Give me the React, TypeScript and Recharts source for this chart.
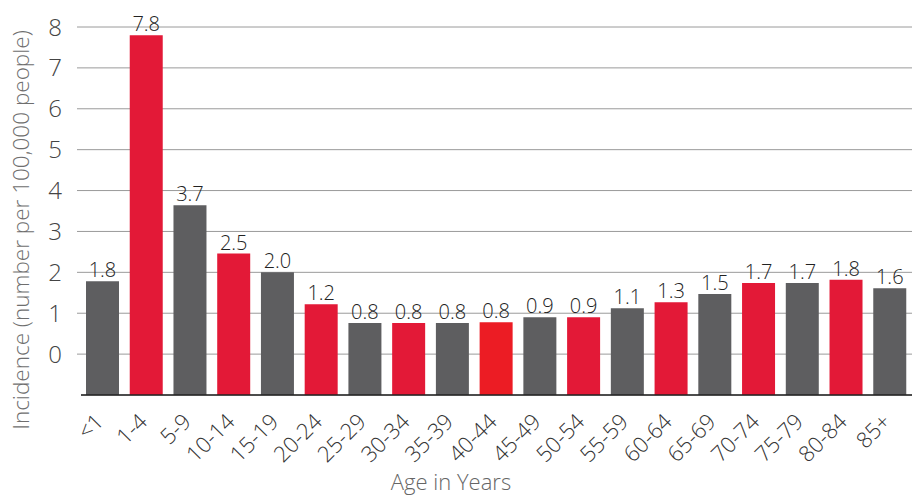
import React from "react";
import { BarChart, Bar, XAxis, YAxis, CartesianGrid, Cell, LabelList, Label } from "recharts";

const ageGroups = ["<1", "1-4", "5-9", "10-14", "15-19", "20-24", "25-29", "30-34", "35-39", "40-44", "45-49", "50-54", "55-59", "60-64", "65-69", "70-74", "75-79", "80-84", "85+"];
const incidence = [1.78, 7.8, 3.64, 2.46, 2.0, 1.22, 0.76, 0.76, 0.76, 0.78, 0.9, 0.9, 1.12, 1.27, 1.47, 1.74, 1.74, 1.82, 1.61];
const valueLabels = ["1.8", "7.8", "3.7", "2.5", "2.0", "1.2", "0.8", "0.8", "0.8", "0.8", "0.9", "0.9", "1.1", "1.3", "1.5", "1.7", "1.7", "1.8", "1.6"];
const barColors = ["#5e5e60", "#e31937", "#5e5e60", "#e31937", "#5e5e60", "#e31937", "#5e5e60", "#e31937", "#5e5e60", "#ec1c24", "#5e5e60", "#e31937", "#5e5e60", "#e31937", "#5e5e60", "#e31937", "#5e5e60", "#e31937", "#5e5e60"];
const yTicks = [0, 1, 2, 3, 4, 5, 6, 7, 8];
const axisFloor = -1;

const data = ageGroups.map((age, i) => ({
  age,
  value: incidence[i],
  label: valueLabels[i],
  range: [axisFloor, incidence[i]],
}));

const FONT = "'Open Sans', Lato, sans-serif";

const XTick = (props: any) => {
  const { x, y, payload } = props;
  const ax = x + 2;
  const ay = y + 20;
  return (
    <text
      x={ax}
      y={ay}
      transform={`rotate(-45, ${ax}, ${ay})`}
      textAnchor="end"
      fontSize={22}
      fontWeight={300}
      fontFamily={FONT}
      fill="#333"
    >
      {payload.value}
    </text>
  );
};

export default function App() {
  return (
    <div style={{ position: "absolute", left: 0, top: 0, width: 912, height: 495, background: "#fff" }}>
      <BarChart width={912} height={495} data={data} margin={{ top: 27, right: 0, bottom: 0, left: 0 }} barSize={33}>
        <CartesianGrid vertical={false} stroke="#9a9a9a" strokeWidth={1} />
        <XAxis
          dataKey="age"
          height={100}
          axisLine={{ stroke: "#222", strokeWidth: 1.5 }}
          tickLine={false}
          tick={<XTick />}
          interval={0}
        >
          <Label
            content={() => (
              <text x={451} y={490} textAnchor="middle" fontSize={22} fontWeight={300} fontFamily={FONT} fill="#666">
                Age in Years
              </text>
            )}
          />
        </XAxis>
        <YAxis
          width={81}
          domain={[axisFloor, 8]}
          ticks={yTicks}
          interval={0}
          axisLine={false}
          tickLine={{ stroke: "#9a9a9a" }}
          tickSize={4}
          tickMargin={15}
          tick={{ fontSize: 24, fontWeight: 300, fontFamily: FONT, fill: "#444" }}
        >
          <Label
            content={() => (
              <text
                x={29}
                y={230}
                transform="rotate(-90, 29, 230)"
                textAnchor="middle"
                fontSize={22.5}
                fontWeight={300}
                fontFamily={FONT}
                fill="#6e6e6e"
              >
                Incidence (number per 100,000 people)
              </text>
            )}
          />
        </YAxis>
        <Bar dataKey="range" isAnimationActive={false}>
          {data.map((d, i) => (
            <Cell key={d.age} fill={barColors[i]} />
          ))}
          <LabelList dataKey="label" position="top" offset={4} fontSize={20} fontWeight={300} fontFamily={FONT} fill="#222" />
        </Bar>
      </BarChart>
    </div>
  );
}
